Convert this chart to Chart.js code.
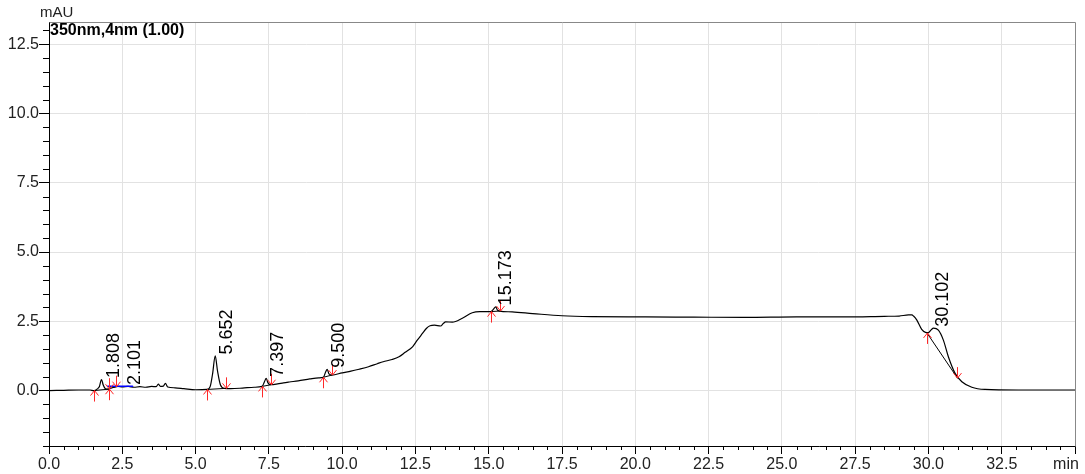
<!DOCTYPE html>
<html><head><meta charset="utf-8">
<script src="https://cdn.jsdelivr.net/npm/chart.js@4.4.1/dist/chart.umd.min.js"></script>
<style>html,body{margin:0;padding:0;background:#fff}#wrap{width:1085px;height:474px;position:relative}</style>
</head><body><div id="wrap"><canvas id="c"></canvas></div>
<script>
// ---- data ----
const traceTime  = [0.0,0.5,1.0,1.4,1.53,1.65,1.72,1.79,1.85,1.93,2.03,2.1,2.2,2.35,2.5,2.7,2.9,3.1,3.3,3.5,3.65,3.73,3.8,3.9,3.97,4.05,4.3,4.6,5.0,5.39,5.5,5.58,5.67,5.75,5.85,5.98,6.2,6.6,7.0,7.27,7.35,7.41,7.47,7.57,7.8,8.0,8.2,8.5,8.9,9.2,9.36,9.44,9.49,9.55,9.65,10.0,10.3,10.58,10.9,11.2,11.4,11.7,11.94,12.15,12.4,12.55,12.74,12.88,13.0,13.15,13.36,13.45,13.53,13.76,14.1,14.44,14.7,15.07,15.15,15.24,15.3,15.37,15.8,16.5,17.5,18.5,20.35,22.0,23.75,25.5,27.16,28.5,29.0,29.32,29.43,29.5,29.6,29.77,29.9,30.0,30.1,30.17,30.34,30.51,30.68,30.91,31.14,31.48,31.93,33.06,35.0];
const traceValue = [0.00,0.01,0.02,0.02,0.00,0.06,0.15,0.40,0.20,0.06,0.05,0.14,0.12,0.15,0.13,0.15,0.12,0.14,0.12,0.15,0.14,0.23,0.15,0.16,0.26,0.13,0.10,0.07,0.03,0.04,0.15,0.60,1.25,0.70,0.20,0.08,0.07,0.09,0.12,0.15,0.32,0.44,0.28,0.21,0.24,0.28,0.31,0.35,0.42,0.46,0.48,0.68,0.77,0.60,0.56,0.64,0.70,0.77,0.86,0.97,1.04,1.12,1.22,1.38,1.58,1.80,2.06,2.25,2.34,2.36,2.33,2.42,2.48,2.47,2.61,2.81,2.85,2.85,2.92,3.02,2.90,2.87,2.84,2.78,2.70,2.67,2.66,2.65,2.64,2.66,2.66,2.68,2.69,2.73,2.73,2.68,2.55,2.21,2.10,2.09,2.20,2.25,2.18,1.82,1.22,0.62,0.32,0.12,0.04,0.02,0.02];

const peakTimes   = [1.808,2.101,5.652,7.397,9.500,15.173,30.102];
const peakLabels  = ['1.808','2.101','5.652','7.397','9.500','15.173','30.102'];
const peakHeights = [0.40,0.15,1.25,0.44,0.77,3.02,2.25];

const startTimes  = [1.53,2.03,5.39,7.27,9.36,15.07,29.95];
const startValues = [0.00,0.05,0.04,0.15,0.48,2.85,2.08];
const endTimes    = [2.03,2.27,6.04,7.57,9.65,15.37,30.99];
const endValues   = [0.05,0.14,0.08,0.21,0.56,2.87,0.45];

const blueTime  = [2.0,2.85];
const blueValue = [0.16,0.16];

const xTickValues = [0,2.5,5,7.5,10,12.5,15,17.5,20,22.5,25,27.5,30,32.5];
const xTickLabels = ['0.0','2.5','5.0','7.5','10.0','12.5','15.0','17.5','20.0','22.5','25.0','27.5','30.0','32.5'];
const yTickValues = [0,2.5,5,7.5,10,12.5];
const yTickLabels = ['0.0','2.5','5.0','7.5','10.0','12.5'];

const xRange = [0,35];
const yRange = [-2,13.3];
const minorStep = 0.5;

// ---- helpers ----
const pts = (xs, ys) => xs.map((x,i)=>({x:x,y:ys[i]}));
const near = (a,b) => Math.abs(a-b) < 1e-6;
const isMajorX = v => xTickValues.some(t=>near(t,v)) || near(v, xRange[1]);
const isMajorY = v => yTickValues.some(t=>near(t,v)) || near(v,-2.5);
function labelFor(v, vals, labs){ const i = vals.findIndex(t=>near(t,v)); return i>=0 ? labs[i] : ''; }
function stepTicks(lo, hi){ const out=[]; const n=Math.round((hi-lo)/minorStep); for(let k=0;k<=n;k++){ out.push({value: +(lo + k*minorStep).toFixed(4)}); } return out; }

const datasets = [{
  data: pts(traceTime, traceValue), borderColor:'#000', borderWidth:1.2, order:2,
  pointRadius:0, cubicInterpolationMode:'monotone', fill:false
}];
startTimes.forEach((t,i)=>{
  datasets.push({data:[{x:t,y:startValues[i]},{x:endTimes[i],y:endValues[i]}], borderColor:'#000', borderWidth:1, pointRadius:0, tension:0, order:3});
});
datasets.push({data: pts(blueTime, blueValue), borderColor:'#0000ff', borderWidth:1.5, pointRadius:0, order:0});

const decor = {
  id:'decor',
  afterDraw(chart){
    const ctx = chart.ctx, xs = chart.scales.x, ys = chart.scales.y, a = chart.chartArea;
    ctx.save();
    // top/right frame
    ctx.strokeStyle='#888'; ctx.lineWidth=1;
    ctx.beginPath();
    ctx.moveTo(Math.round(a.left)+0.5, Math.round(a.top)+0.5);
    ctx.lineTo(Math.round(a.right)+0.5, Math.round(a.top)+0.5);
    ctx.lineTo(Math.round(a.right)+0.5, Math.round(a.bottom)+0.5);
    ctx.stroke();
    // minor ticks
    ctx.strokeStyle='#000';
    ctx.beginPath();
    xs.ticks.forEach(t=>{ if(!isMajorX(t.value)){ const px=Math.round(xs.getPixelForValue(t.value))+0.5; ctx.moveTo(px,a.bottom); ctx.lineTo(px,a.bottom+4);} });
    ys.ticks.forEach(t=>{ if(!isMajorY(t.value)){ const py=Math.round(ys.getPixelForValue(t.value))+0.5; ctx.moveTo(a.left-6,py); ctx.lineTo(a.left,py);} });
    ctx.stroke();
    // texts
    ctx.fillStyle='#222';
    ctx.font='15px Arial, "Liberation Sans", sans-serif';
    ctx.textAlign='left'; ctx.textBaseline='middle';
    ctx.fillText('mAU', 40, 13);
    ctx.font='16px Arial, "Liberation Sans", sans-serif';
    ctx.textAlign='center'; ctx.textBaseline='alphabetic';
    ctx.fillText('min', a.right-9, 469);
    ctx.fillStyle='#000';
    ctx.font='bold 16px Arial, "Liberation Sans", sans-serif';
    ctx.textAlign='left';
    ctx.fillText('350nm,4nm (1.00)', a.left+1, a.top+13);
    // arrows
    ctx.strokeStyle='rgb(255,40,40)'; ctx.lineWidth=1;
    const arrow=(t,v,dir)=>{ // dir -1 up arrow (from below), +1 down arrow (from above)
      const px=Math.round(xs.getPixelForValue(t))+0.5, py=ys.getPixelForValue(v);
      const L=11, s = dir<0 ? 1 : -1;
      ctx.beginPath();
      ctx.moveTo(px, py + s*L); ctx.lineTo(px, py);
      ctx.moveTo(px-4, py + s*5); ctx.lineTo(px, py); ctx.lineTo(px+4, py + s*5);
      ctx.stroke();
    };
    startTimes.forEach((t,i)=>arrow(t,startValues[i],-1));
    endTimes.forEach((t,i)=>arrow(t,endValues[i],1));
    // peak labels
    ctx.fillStyle='#000';
    ctx.font='18px Arial, "Liberation Sans", sans-serif';
    ctx.textAlign='left'; ctx.textBaseline='alphabetic';
    let prevRight=-1e9;
    peakTimes.forEach((t,i)=>{
      let bx = xs.getPixelForValue(t)+17;
      if (bx-13 < prevRight+8) bx = prevRight+8+13;
      const by = ys.getPixelForValue(peakHeights[i]) - 1.5;
      ctx.save(); ctx.translate(bx,by); ctx.rotate(-Math.PI/2); ctx.fillText(peakLabels[i],0,0); ctx.restore();
      prevRight = bx;
    });
    ctx.restore();
  }
};

new Chart(document.getElementById('c'), {
  type:'line',
  data:{datasets},
  plugins:[decor],
  options:{
    responsive:true, maintainAspectRatio:false, animation:false,
    layout:{padding:{top:22,right:10,left:0,bottom:0}},
    plugins:{legend:{display:false}, tooltip:{enabled:false}},
    elements:{line:{borderCapStyle:'round',borderJoinStyle:'round'}},
    scales:{
      x:{type:'linear', min:xRange[0], max:xRange[1],
        afterBuildTicks:s=>{ s.ticks = stepTicks(xRange[0], xRange[1]); },
        afterFit:s=>{ s.height = 28; },
        border:{color:'#000',width:1},
        grid:{color:c=> (c.tick && xTickValues.some(t=>near(t,c.tick.value)) && c.tick.value>0) ? '#e2e2e2' : 'rgba(0,0,0,0)',
              tickColor:c=> (c.tick && isMajorX(c.tick.value)) ? '#000' : 'rgba(0,0,0,0)', tickLength:8, lineWidth:1},
        ticks:{autoSkip:false, maxRotation:0, padding:1, color:'#222',
          font:{family:'Arial, "Liberation Sans", sans-serif', size:16},
          callback:v=>labelFor(v,xTickValues,xTickLabels)}
      },
      y:{type:'linear', min:yRange[0], max:yRange[1],
        afterBuildTicks:s=>{ s.ticks = stepTicks(yRange[0], 13.0); },
        afterFit:s=>{ s.width = 49; },
        border:{color:'#000',width:1},
        grid:{color:c=> (c.tick && yTickValues.some(t=>near(t,c.tick.value))) ? '#e2e2e2' : 'rgba(0,0,0,0)',
              tickColor:c=> (c.tick && isMajorY(c.tick.value)) ? '#000' : 'rgba(0,0,0,0)', tickLength:10, lineWidth:1},
        ticks:{autoSkip:false, padding:0, color:'#222',
          font:{family:'Arial, "Liberation Sans", sans-serif', size:16},
          callback:v=>labelFor(v,yTickValues,yTickLabels)}
      }
    }
  }
});
</script></body></html>
